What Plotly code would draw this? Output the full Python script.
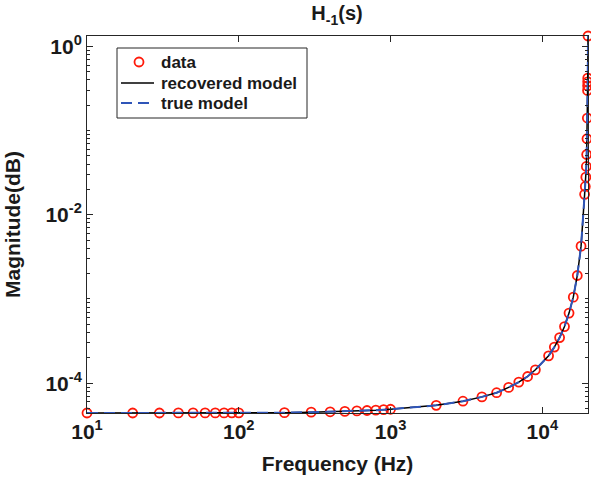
import numpy as np
import plotly.graph_objects as go

# ---- data ----
freq_hz = [10, 20, 30, 40, 50, 60, 70, 80, 90, 100,
           200, 300, 400, 500, 600, 700, 800, 900, 1000,
           2000, 3000, 4000, 5000, 6000, 7000, 8000, 9000,
           11000, 12000, 13000, 14000, 15000, 16000, 17000, 18000,
           19000, 19200, 19350, 19500, 19600, 19700, 19800,
           19860, 19880, 19900, 19920, 20000]
magnitude = [4.42e-5, 4.42e-5, 4.42e-5, 4.43e-5, 4.43e-5, 4.43e-5, 4.43e-5, 4.43e-5, 4.44e-5, 4.44e-5,
             4.46e-5, 4.52e-5, 4.57e-5, 4.62e-5, 4.68e-5, 4.73e-5, 4.78e-5, 4.84e-5, 4.90e-5,
             5.45e-5, 6.1e-5, 6.87e-5, 7.7e-5, 8.9e-5, 1.03e-4, 1.2e-4, 1.44e-4,
             2.11e-4, 2.68e-4, 3.48e-4, 4.7e-4, 6.8e-4, 1.05e-3, 1.9e-3, 4.24e-3,
             0.0175, 0.0217, 0.028, 0.0375, 0.052, 0.080, 0.141,
             0.30, 0.34, 0.38, 0.42, 1.33]

model_freq = freq_hz
recovered_model = magnitude
true_model = magnitude

legend_labels = ["data", "recovered model", "true model"]

x_tickvals = [10, 100, 1000, 10000]
x_ticktext = ["<b>10<sup>1</sup></b>", "<b>10<sup>2</sup></b>", "<b>10<sup>3</sup></b>", "<b>10<sup>4</sup></b>"]
y_tickvals = [1e-4, 1e-2, 1e0]
y_ticktext = ["<b>10<sup>-4</sup></b>", "<b>10<sup>-2</sup></b>", "<b>10<sup>0</sup></b>"]

FONT = "Liberation Sans, Arial, Helvetica, sans-serif"
RED = "#ff1a0a"
BLUE = "#2f55b8"
INK = "#1a1a1a"

y_minor = []
for k in range(-5, 1):
    for m in range(1, 10):
        v = m * 10.0 ** k
        if 4.42e-5 <= v <= 1.33 and v not in y_tickvals:
            y_minor.append(v)

fig = go.Figure()
fig.add_trace(go.Scatter(
    x=freq_hz, y=magnitude, mode="markers", name=legend_labels[0], showlegend=False,
    marker=dict(symbol="circle-open", size=9, color=RED, line=dict(width=1.8, color=RED)),
    cliponaxis=False))
fig.add_trace(go.Scatter(
    x=model_freq, y=recovered_model, mode="lines", name=legend_labels[1], showlegend=False,
    line=dict(color="black", width=1.5), cliponaxis=False))
fig.add_trace(go.Scatter(
    x=model_freq, y=true_model, mode="lines", name=legend_labels[2], showlegend=False,
    line=dict(color=BLUE, width=2, dash="11px,6px"), cliponaxis=False))

axis_common = dict(
    showgrid=False, zeroline=False, showline=True, linecolor="#262626", linewidth=1,
    mirror="allticks", ticks="inside", ticklen=6, tickwidth=1, tickcolor="#262626",
    tickfont=dict(family=FONT, size=21, color=INK),
)

fig.update_xaxes(
    type="log", range=[1, np.log10(20000)],
    tickmode="array", tickvals=x_tickvals, ticktext=x_ticktext,
    title=dict(text="<b>Frequency (Hz)</b>", font=dict(family=FONT, size=21, color=INK), standoff=14),
    **axis_common)
fig.update_yaxes(
    type="log", range=[np.log10(4.42e-5), np.log10(1.33)],
    tickmode="array", tickvals=y_tickvals, ticktext=y_ticktext,
    minor=dict(tickmode="array", tickvals=y_minor, ticks="inside", ticklen=3, tickcolor="#262626", tickwidth=1),
    title=dict(text="<b>Magnitude(dB)</b>", font=dict(family=FONT, size=21, color=INK), standoff=19),
    **axis_common)

# ---- legend box (drawn in plot-area fractions; plot area is 501 x 377 px) ----
W, H = 501.0, 377.0
def px(x):  # page x -> paper x
    return (x - 87) / W
def py(y):  # page y -> paper y
    return 1 - (y - 36) / H

shapes = [
    dict(type="rect", xref="paper", yref="paper", x0=px(117), x1=px(307), y0=py(118), y1=py(48),
         line=dict(color="#262626", width=1), fillcolor="white", layer="above"),
    dict(type="circle", xref="paper", yref="paper", xsizemode="pixel", ysizemode="pixel",
         xanchor=px(139), yanchor=py(62), x0=-4.5, x1=4.5, y0=-4.5, y1=4.5,
         line=dict(color=RED, width=1.8), layer="above"),
    dict(type="line", xref="paper", yref="paper", x0=px(121), x1=px(154), y0=py(83), y1=py(83),
         line=dict(color="black", width=1.5), layer="above"),
    dict(type="line", xref="paper", yref="paper", x0=px(121), x1=px(154), y0=py(103), y1=py(103),
         line=dict(color=BLUE, width=2, dash="11px,6px"), layer="above"),
]
annotations = [
    dict(text="<b>%s</b>" % lab, xref="paper", yref="paper", x=px(159), y=py(yy),
         xanchor="left", yanchor="middle", showarrow=False,
         font=dict(family=FONT, size=17, color=INK))
    for lab, yy in zip(legend_labels, [62, 83, 103])
]

fig.update_layout(
    width=591, height=478,
    margin=dict(l=87, r=3, t=36, b=65, autoexpand=False),
    paper_bgcolor="white", plot_bgcolor="white",
    title=dict(text="<b>H<sub>-1</sub>(s)</b>", x=(337 / 591), xanchor="center", y=0.972, yanchor="middle",
               font=dict(family=FONT, size=20, color=INK)),
    shapes=shapes, annotations=annotations,
    showlegend=False,
)

fig.write_html("out.html", config={"displayModeBar": False},
               post_script="document.body.style.margin='0';document.body.style.overflow='hidden';")
